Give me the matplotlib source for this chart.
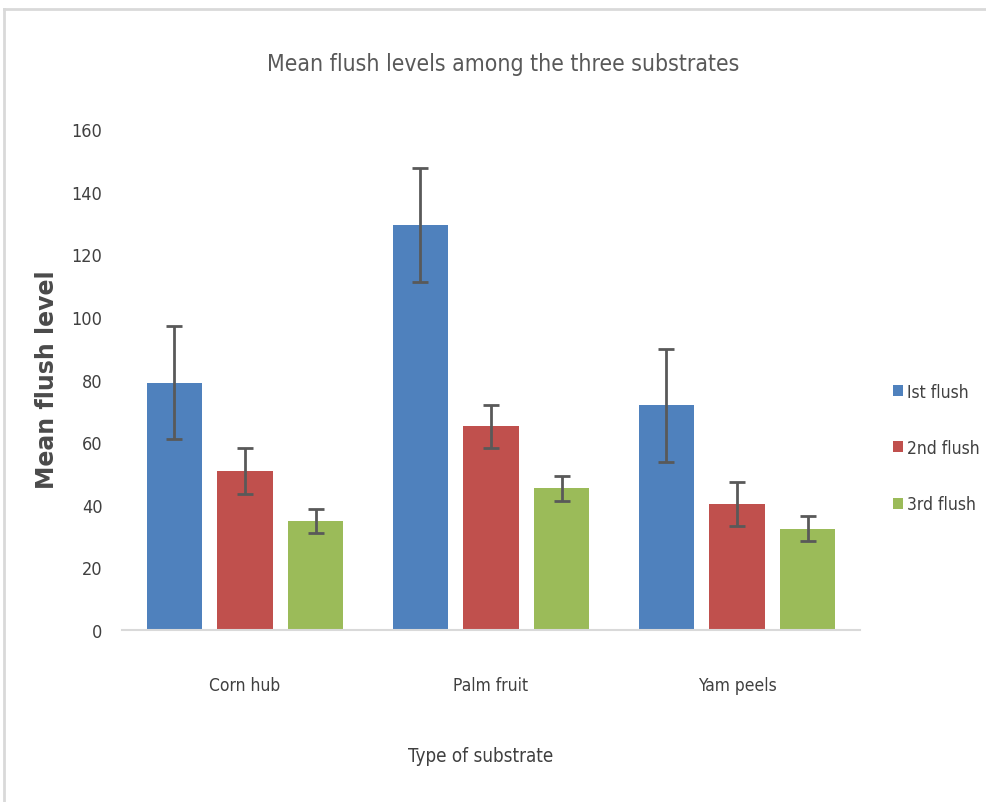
import matplotlib
matplotlib.use("Agg")
import matplotlib.pyplot as plt
from matplotlib.lines import Line2D
import numpy as np

# data
substrates = ["Corn hub", "Palm fruit", "Yam peels"]
flushes = ["Ist flush", "2nd flush", "3rd flush"]
means = [
    [79, 129.3, 71.7],   # 1st flush
    [50.8, 65, 40.3],    # 2nd flush
    [34.8, 45.2, 32.4],  # 3rd flush
]
errors = [
    [18, 18.2, 18.1],
    [7.3, 7.0, 7.1],
    [3.9, 3.9, 3.9],
]
yticks = [0, 20, 40, 60, 80, 100, 120, 140, 160]

colors = ["#4F81BD", "#C0504D", "#9BBB59"]
narrow = dict(family=["DejaVu Sans"], stretch="condensed")
W, H = 986, 803

fig = plt.figure(figsize=(W / 100, H / 100), dpi=100)
ax = fig.add_axes([122 / W, 1 - 631 / H, (860 - 122) / W, (631 - 130) / H])

x = np.arange(len(substrates))
width = 0.224
step = 0.287
for i in range(len(flushes)):
    ax.bar(x + (i - 1) * step, means[i], width, color=colors[i],
           yerr=errors[i], ecolor="#595959", capsize=6,
           error_kw=dict(elinewidth=2, capthick=2), label=flushes[i], zorder=2)

ax.set_xlim(-0.5, 2.5)
ax.set_ylim(0, 160)
ax.set_yticks(yticks)
ax.set_xticks(x)
ax.set_xticklabels(substrates, fontsize=12.5, color="#404040", **narrow)
ax.set_yticklabels([str(t) for t in yticks], fontsize=13, color="#404040", **narrow)
ax.tick_params(axis="both", length=0)
ax.tick_params(axis="x", pad=33)
ax.tick_params(axis="y", pad=14)
for s in ["top", "right", "left"]:
    ax.spines[s].set_visible(False)
ax.spines["bottom"].set_color("#d9d9d9")
ax.spines["bottom"].set_linewidth(1.5)

fig.text(47 / W, 1 - 380 / H, "Mean flush level", family="DejaVu Sans",
         fontweight="bold", fontsize=17, color="#4a4a4a", rotation=90,
         ha="center", va="center")

fig.text(503 / W, 1 - 65 / H, "Mean flush levels among the three substrates",
         fontsize=16.5, color="#595959", ha="center", va="center", **narrow)
fig.text(481 / W, 1 - 757 / H, "Type of substrate",
         fontsize=13.5, color="#404040", ha="center", va="center", **narrow)

leg = ax.legend(loc="center left", bbox_to_anchor=(877 / W, 1 - 449 / H),
                bbox_transform=fig.transFigure, frameon=False,
                prop=dict(size=12.5, **narrow), labelspacing=2.2,
                handlelength=0.6, handleheight=0.6, handletextpad=0.25)
for t in leg.get_texts():
    t.set_color("#404040")

# outer frame of the original chart box (top and left edges visible)
fig.add_artist(Line2D([4 / W, 1], [1 - 10 / H, 1 - 10 / H], color="#d9d9d9",
                      lw=2, transform=fig.transFigure))
fig.add_artist(Line2D([4 / W, 4 / W], [0, 1 - 10 / H], color="#d9d9d9",
                      lw=2, transform=fig.transFigure))

fig.savefig("out.png", dpi=100)
